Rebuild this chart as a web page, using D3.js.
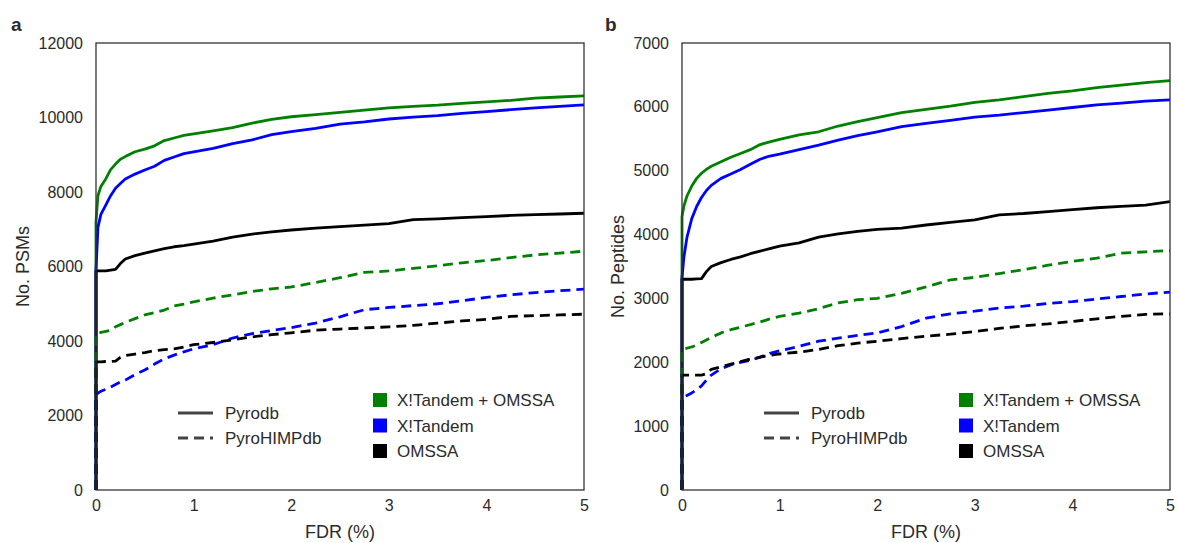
<!DOCTYPE html>
<html>
<head>
<meta charset="utf-8">
<script src="https://cdn.jsdelivr.net/npm/d3@7"></script>
<style>
  html, body { margin: 0; padding: 0; background: #fff; }
  svg { display: block; font-family: "Liberation Sans", Arial, sans-serif; }
</style>
</head>
<body>
<svg id="chart" width="1178" height="543"></svg>
<script>
// FDR grid (%) shared by every curve; the repeated 0 gives the vertical rise from zero
const fdr = [0, 0, 0.02, 0.05, 0.1, 0.15, 0.2, 0.25, 0.3, 0.4, 0.5, 0.6, 0.7, 0.8, 0.9, 1.0,
             1.2, 1.4, 1.6, 1.8, 2.0, 2.25, 2.5, 2.75, 3.0, 3.25, 3.5, 3.75, 4.0, 4.25, 4.5, 4.75, 5.0];

// Panel a: number of PSMs
const psmComboPyro = [0, 7200, 7900, 8150, 8350, 8600, 8750, 8880, 8950, 9080, 9150, 9240, 9380, 9450, 9520, 9560,
                      9640, 9730, 9850, 9950, 10020, 10080, 10140, 10200, 10260, 10300, 10330, 10380, 10420, 10460, 10520, 10550, 10580];
const psmXTPyro    = [0, 5900, 7050, 7400, 7650, 7900, 8100, 8230, 8350, 8480, 8590, 8690, 8850, 8940, 9030, 9080,
                      9170, 9300, 9400, 9540, 9620, 9710, 9820, 9880, 9960, 10010, 10050, 10110, 10160, 10210, 10260, 10300, 10340];
const psmOmPyro    = [0, 5880, 5880, 5880, 5880, 5900, 5920, 6080, 6200, 6290, 6360, 6420, 6480, 6530, 6560, 6600,
                      6680, 6790, 6870, 6930, 6980, 7030, 7070, 7110, 7150, 7260, 7280, 7310, 7340, 7370, 7390, 7410, 7430];
const psmComboHimp = [0, 4200, 4210, 4230, 4260, 4290, 4380, 4440, 4500, 4600, 4700, 4760, 4830, 4940, 4990, 5050,
                      5150, 5240, 5330, 5400, 5450, 5570, 5700, 5840, 5880, 5950, 6020, 6100, 6160, 6240, 6310, 6360, 6410];
const psmXTHimp    = [0, 2550, 2600, 2650, 2700, 2760, 2830, 2900, 2950, 3100, 3220, 3380, 3520, 3620, 3710, 3790,
                      3900, 4080, 4200, 4280, 4360, 4480, 4650, 4840, 4900, 4950, 5000, 5080, 5170, 5240, 5300, 5350, 5390];
const psmOmHimp    = [0, 3440, 3440, 3440, 3450, 3450, 3460, 3560, 3610, 3650, 3690, 3740, 3770, 3790, 3840, 3900,
                      3960, 4030, 4110, 4170, 4220, 4290, 4320, 4350, 4380, 4420, 4480, 4540, 4580, 4660, 4680, 4700, 4720];

// Panel b: number of peptides
const pepComboPyro = [0, 4280, 4450, 4600, 4760, 4880, 4960, 5020, 5070, 5140, 5210, 5270, 5330, 5410, 5450, 5490,
                      5560, 5610, 5700, 5770, 5830, 5910, 5960, 6010, 6070, 6110, 6160, 6210, 6250, 6300, 6340, 6380, 6410];
const pepXTPyro    = [0, 3330, 3650, 3950, 4250, 4440, 4580, 4690, 4770, 4880, 4950, 5020, 5100, 5180, 5230, 5260,
                      5330, 5400, 5480, 5550, 5610, 5690, 5740, 5790, 5840, 5870, 5910, 5950, 5990, 6030, 6060, 6090, 6110];
const pepOmPyro    = [0, 3300, 3300, 3300, 3300, 3305, 3310, 3420, 3500, 3560, 3610, 3650, 3700, 3740, 3780, 3820,
                      3870, 3960, 4010, 4050, 4080, 4100, 4150, 4190, 4230, 4310, 4330, 4360, 4390, 4420, 4440, 4460, 4515];
const pepComboHimp = [0, 2200, 2210, 2220, 2240, 2270, 2310, 2350, 2390, 2460, 2510, 2550, 2590, 2630, 2680, 2720,
                      2770, 2840, 2930, 2980, 3000, 3080, 3180, 3290, 3330, 3390, 3450, 3520, 3580, 3630, 3710, 3730, 3750];
const pepXTHimp    = [0, 1430, 1460, 1480, 1520, 1570, 1630, 1720, 1800, 1900, 1960, 2000, 2030, 2080, 2140, 2180,
                      2250, 2330, 2380, 2420, 2460, 2560, 2690, 2760, 2800, 2850, 2880, 2920, 2950, 2990, 3030, 3070, 3100];
const pepOmHimp    = [0, 1800, 1800, 1800, 1800, 1800, 1800, 1820, 1890, 1930, 1970, 2010, 2050, 2080, 2110, 2130,
                      2160, 2200, 2260, 2300, 2330, 2370, 2410, 2440, 2480, 2530, 2570, 2600, 2640, 2680, 2720, 2750, 2760];

// Tick labels
const xTicks = [0, 1, 2, 3, 4, 5];
const psmTicks = [0, 2000, 4000, 6000, 8000, 10000, 12000];
const pepTicks = [0, 1000, 2000, 3000, 4000, 5000, 6000, 7000];

// Legend entries
const engineNames = ["X!Tandem + OMSSA", "X!Tandem", "OMSSA"];
const dbNames = ["Pyrodb", "PyroHIMPdb"];

const engineColors = { "X!Tandem + OMSSA": "#008000", "X!Tandem": "#0000ff", "OMSSA": "#000000" };
const dbDash = { "Pyrodb": null, "PyroHIMPdb": "10,6" };

const svg = d3.select("#chart");
const ink = "#2b2b2b";

function panel(opts) {
  const { left, top, width, height, yMax, yTicks, yTitle, yTitleOffset, letter, letterX, series } = opts;
  const g = svg.append("g");
  const x = d3.scaleLinear().domain([0, 5]).range([left, left + width]);
  const y = d3.scaleLinear().domain([0, yMax]).range([top + height, top]);

  // curves
  const line = d3.line().x(d => x(d[0])).y(d => y(d[1]));
  const clipId = "clip-" + letter;
  svg.append("clipPath").attr("id", clipId)
    .append("rect").attr("x", left - 3).attr("y", top).attr("width", width + 3).attr("height", height);
  const curves = g.append("g").attr("clip-path", `url(#${clipId})`);
  series.forEach(s => {
    curves.append("path")
      .datum(fdr.map((f, i) => [f, s.values[i]]))
      .attr("d", line)
      .attr("fill", "none")
      .attr("stroke", engineColors[s.engine])
      .attr("stroke-width", 2.8)
      .attr("stroke-linejoin", "round")
      .attr("stroke-dasharray", dbDash[s.db]);
  });

  // frame
  g.append("rect")
    .attr("x", left).attr("y", top).attr("width", width).attr("height", height)
    .attr("fill", "none").attr("stroke", "#333").attr("stroke-width", 1.3);

  // axes (labels only, no tick marks)
  const xAxis = d3.axisBottom(x).tickValues(xTicks).tickSize(0).tickPadding(10).tickFormat(d3.format("d"));
  const yAxis = d3.axisLeft(y).tickValues(yTicks).tickSize(0).tickPadding(13).tickFormat(d3.format("d"));
  const gx = g.append("g").attr("transform", `translate(0,${top + height})`).call(xAxis);
  const gy = g.append("g").attr("transform", `translate(${left},0)`).call(yAxis);
  [gx, gy].forEach(a => {
    a.select(".domain").remove();
    a.selectAll("text").attr("font-size", 16).attr("fill", ink).attr("font-family", "Liberation Sans, Arial, sans-serif");
  });

  // titles
  g.append("text").attr("x", left + width / 2).attr("y", top + height + 48)
    .attr("text-anchor", "middle").attr("font-size", 18).attr("fill", ink).text("FDR (%)");
  g.append("text")
    .attr("transform", `translate(${left - yTitleOffset},${top + height / 2}) rotate(-90)`)
    .attr("text-anchor", "middle").attr("font-size", 18).attr("fill", ink).text(yTitle);
  g.append("text").attr("x", letterX).attr("y", top - 12)
    .attr("font-size", 19).attr("font-weight", "bold").attr("fill", ink).text(letter);

  // line-style legend
  const lg = g.append("g");
  dbNames.forEach((name, i) => {
    const cy = top + 370 + i * 25;
    lg.append("line").attr("x1", left + 82).attr("x2", left + 117).attr("y1", cy).attr("y2", cy)
      .attr("stroke", "#444").attr("stroke-width", 2.8).attr("stroke-dasharray", dbDash[name]);
    lg.append("text").attr("x", left + 129).attr("y", cy + 6)
      .attr("font-size", 17).attr("fill", ink).text(name);
  });

  // colour legend
  engineNames.forEach((name, i) => {
    const cy = top + 357 + i * 25.5;
    lg.append("rect").attr("x", left + 277).attr("y", cy - 7).attr("width", 14).attr("height", 14)
      .attr("fill", engineColors[name]);
    lg.append("text").attr("x", left + 301).attr("y", cy + 6)
      .attr("font-size", 17).attr("fill", ink).text(name);
  });
}

panel({
  left: 96, top: 43, width: 488, height: 447, yMax: 12000, yTicks: psmTicks,
  yTitle: "No. PSMs", yTitleOffset: 67, letter: "a", letterX: 11,
  series: [
    { engine: "X!Tandem + OMSSA", db: "Pyrodb", values: psmComboPyro },
    { engine: "X!Tandem", db: "Pyrodb", values: psmXTPyro },
    { engine: "OMSSA", db: "Pyrodb", values: psmOmPyro },
    { engine: "X!Tandem + OMSSA", db: "PyroHIMPdb", values: psmComboHimp },
    { engine: "X!Tandem", db: "PyroHIMPdb", values: psmXTHimp },
    { engine: "OMSSA", db: "PyroHIMPdb", values: psmOmHimp }
  ]
});

panel({
  left: 682, top: 43, width: 488, height: 447, yMax: 7000, yTicks: pepTicks,
  yTitle: "No. Peptides", yTitleOffset: 58, letter: "b", letterX: 605,
  series: [
    { engine: "X!Tandem + OMSSA", db: "Pyrodb", values: pepComboPyro },
    { engine: "X!Tandem", db: "Pyrodb", values: pepXTPyro },
    { engine: "OMSSA", db: "Pyrodb", values: pepOmPyro },
    { engine: "X!Tandem + OMSSA", db: "PyroHIMPdb", values: pepComboHimp },
    { engine: "X!Tandem", db: "PyroHIMPdb", values: pepXTHimp },
    { engine: "OMSSA", db: "PyroHIMPdb", values: pepOmHimp }
  ]
});
</script>
</body>
</html>
